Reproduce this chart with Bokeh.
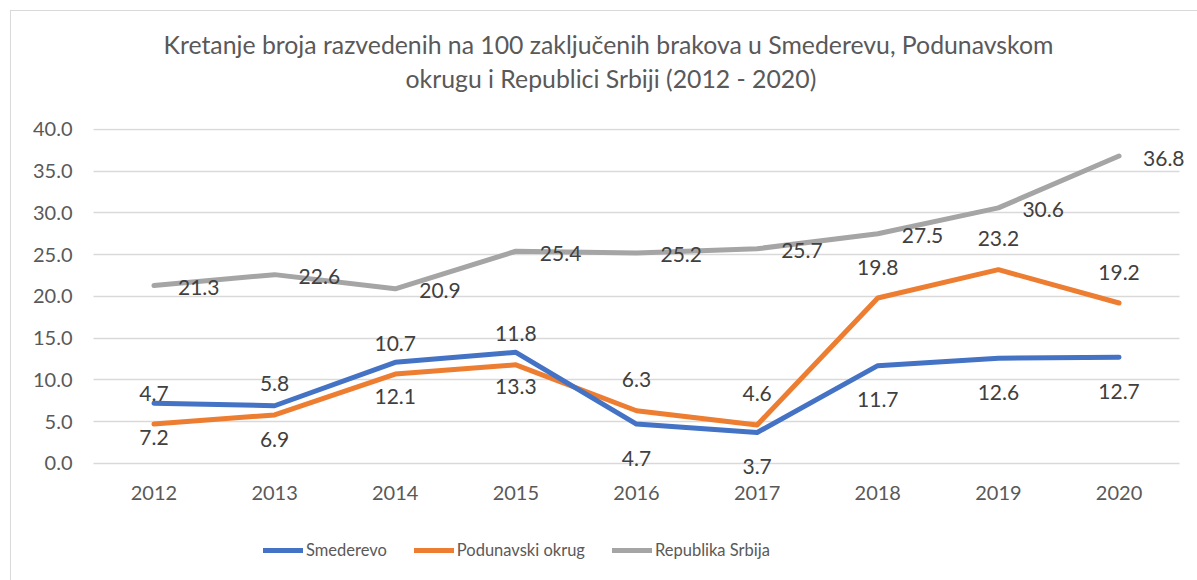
from bokeh.plotting import figure
from bokeh.models import (Range1d, FactorRange, Legend, LegendItem, Title, FixedTicker,
                          NumeralTickFormatter, ColumnDataSource, Grid, InlineStyleSheet)
from bokeh.embed import file_html
from bokeh.resources import INLINE
from bokeh.core.properties import value

years = ["2012", "2013", "2014", "2015", "2016", "2017", "2018", "2019", "2020"]
smederevo = [7.2, 6.9, 12.1, 13.3, 4.7, 3.7, 11.7, 12.6, 12.7]
podunavski = [4.7, 5.8, 10.7, 11.8, 6.3, 4.6, 19.8, 23.2, 19.2]
srbija = [21.3, 22.6, 20.9, 25.4, 25.2, 25.7, 27.5, 30.6, 36.8]
y_ticks = [0, 5, 10, 15, 20, 25, 30, 35, 40]
series_names = ["Smederevo", "Podunavski okrug", "Republika Srbija"]

title_line1 = "Kretanje broja razvedenih na 100 zaključenih brakova u Smederevu, Podunavskom"
title_line2 = "okrugu i Republici Srbiji (2012 - 2020)"

FONT = "Lato"
TXT = "#595959"
LBL = "#404040"
colors = ["#4472C4", "#ED7D31", "#A5A5A5"]

p = figure(width=1189, height=572,
           x_range=FactorRange(*years, range_padding=0.015),
           y_range=Range1d(-12.59, 40.1),
           output_backend="svg", toolbar_location=None,
           min_border_left=85, min_border_right=2, min_border_top=128, min_border_bottom=4)
p.outline_line_color = None
p.stylesheets = [InlineStyleSheet(css=(
    ":host::before { content: ''; position: absolute; left: 10px; top: 10px; right: -8px; bottom: -8px;"
    " border-top: 1px solid #d9d9d9; border-left: 1px solid #d9d9d9; pointer-events: none; z-index: 5; }"))]

title_kw = dict(align="left", text_font=FONT, text_font_size="24.8px", text_font_style="normal",
                text_color=TXT)
p.title.text = title_line1
for k, v in title_kw.items():
    setattr(p.title, k, v)
p.title.offset = 78
p.title.standoff = 6
# spacer between the title block and the plot area
p.add_layout(Title(text=" ", standoff=5, **title_kw), "above")
p.add_layout(Title(text=title_line2, standoff=0, offset=320, **title_kw), "above")

src = ColumnDataSource(dict(x=years, s=smederevo, pd=podunavski, sr=srbija,
                            s_t=[f"{v:.1f}" for v in smederevo],
                            pd_t=[f"{v:.1f}" for v in podunavski],
                            sr_t=[f"{v:.1f}" for v in srbija]))

r_sr = p.line("x", "sr", source=src, line_color=colors[2], line_width=5, line_cap="round", line_join="round")
r_pd = p.line("x", "pd", source=src, line_color=colors[1], line_width=5, line_cap="round", line_join="round")
r_s = p.line("x", "s", source=src, line_color=colors[0], line_width=5, line_cap="round", line_join="round")

p.text("x", "s", text="s_t", source=src, y_offset=34, text_align="center", text_baseline="middle",
       text_font=value(FONT), text_font_size="21px", text_color=LBL)
p.text("x", "pd", text="pd_t", source=src, y_offset=-31, text_align="center", text_baseline="middle",
       text_font=value(FONT), text_font_size="21px", text_color=LBL)
p.text("x", "sr", text="sr_t", source=src, x_offset=24, y_offset=2, text_align="left", text_baseline="middle",
       text_font=value(FONT), text_font_size="21px", text_color=LBL)

p.xgrid.grid_line_color = None
p.ygrid.grid_line_color = "#d9d9d9"
p.ygrid.grid_line_width = 1.5
if "cross_bounds" in Grid.properties():
    p.ygrid.cross_bounds = (0, len(years))
p.yaxis.ticker = FixedTicker(ticks=y_ticks)
p.yaxis.formatter = NumeralTickFormatter(format="0.0")
p.yaxis.bounds = (0, 40)
p.xaxis.fixed_location = 0
for ax in (p.xaxis[0], p.yaxis[0]):
    ax.axis_line_color = None
    ax.major_tick_line_color = None
    ax.minor_tick_line_color = None
    ax.major_label_text_font = FONT
    ax.major_label_text_font_size = "20px"
    ax.major_label_text_color = TXT
p.yaxis.major_label_standoff = 7
p.xaxis.major_label_standoff = 17

legend = Legend(items=[LegendItem(label=series_names[0], renderers=[r_s]),
                       LegendItem(label=series_names[1], renderers=[r_pd]),
                       LegendItem(label=series_names[2], renderers=[r_sr])],
                orientation="horizontal", location=(178, 8), padding=0, spacing=27,
                glyph_width=40, label_standoff=3, border_line_color=None, background_fill_alpha=0,
                label_text_font=FONT, label_text_font_size="16.5px", label_text_color=TXT)
p.add_layout(legend, "center")

open("out.html", "w").write(file_html(p, INLINE))
